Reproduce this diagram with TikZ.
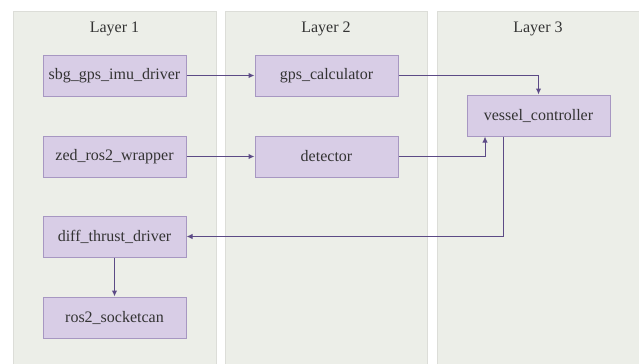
\documentclass[tikz,border=0pt]{standalone}
\usepackage{fontspec}
\setmainfont{Liberation Serif}
\newfontfamily\diagserif{Liberation Serif}
\usetikzlibrary{arrows.meta,positioning}
\definecolor{panelfill}{HTML}{ECEEE8}
\definecolor{paneldraw}{HTML}{DCDDD8}
\definecolor{nodefill}{HTML}{D8CDE6}
\definecolor{nodedraw}{HTML}{A797C2}
\definecolor{edgecol}{HTML}{5C4A86}
\tikzset{
  panel/.style={fill=panelfill, draw=paneldraw, line width=0.6pt},
  layertitle/.style={font=\diagserif\fontsize{12pt}{14pt}\selectfont, text=black!80},
  proc/.style={rectangle, fill=nodefill, draw=nodedraw, line width=0.75pt,
    minimum width=107.25pt, minimum height=30.75pt, inner sep=0pt,
    font=\diagserif\fontsize{12pt}{14pt}\selectfont, text=black!80},
  flow/.style={draw=edgecol, line width=0.75pt, -{Latex[length=4.5pt,width=4pt]}}
}
\begin{document}
\begin{tikzpicture}[x=0.75pt,y=-0.75pt]
\useasboundingbox (0,0) rectangle (639,364);
\fill[white] (0,0) rectangle (639,364);
% panels
\path[panel] (13,11) rectangle (216,366);
\path[panel] (225,11) rectangle (427,366);
\path[panel] (437,11) rectangle (642,366);
\node[layertitle] (t1) at (114.5,28.5) {Layer 1};
\node[layertitle] (t2) at (326,28.5) {Layer 2};
\node[layertitle] (t3) at (538,28.5) {Layer 3};
% nodes
\node[proc] (sbg) at (114.5,75.5) {sbg\_gps\_imu\_driver};
\node[proc] (zed) at (114.5,156.5) {zed\_ros2\_wrapper};
\node[proc] (gps) at (326.5,75.5) {gps\_calculator};
\node[proc] (det) at (326.5,156.5) {detector};
\node[proc] (ves) at (538.5,115.5) {vessel\_controller};
\node[proc] (diff) at (114.5,236.5) {diff\_thrust\_driver};
\node[proc] (ros) at (114.5,317.5) {ros2\_socketcan};
\coordinate (vin) at ([xshift=13.875pt]ves.south west);
\coordinate (vout) at ([xshift=27.375pt]ves.south west);
% edges
\draw[flow] (sbg.east) -- (gps.west);
\draw[flow] (zed.east) -- (det.west);
\draw[flow] (gps.east) -| (ves.north);
\draw[flow] (det.east) -| (vin);
\draw[flow] (vout) |- (diff.east);
\draw[flow] (diff.south) -- (ros.north);
\end{tikzpicture}
\end{document}
